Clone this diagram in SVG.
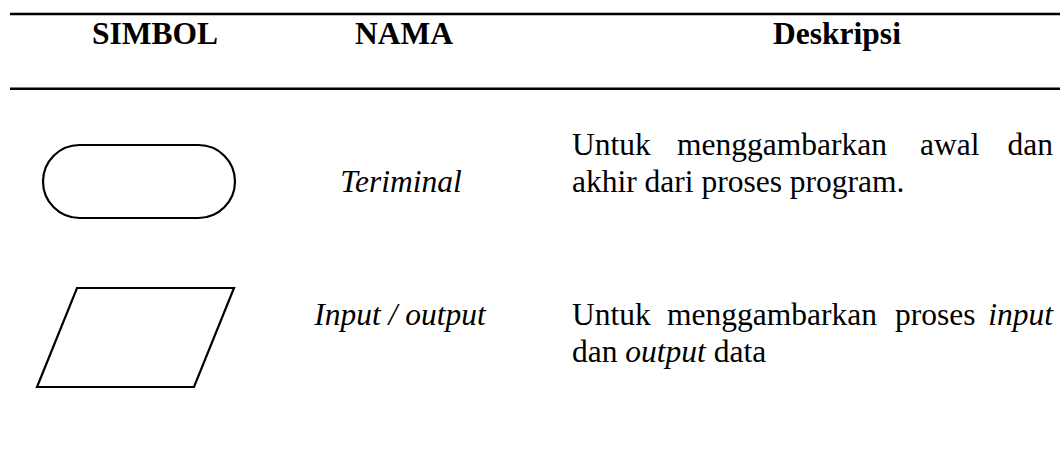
<svg xmlns="http://www.w3.org/2000/svg" width="1060" height="452" viewBox="0 0 1060 452">
<style>
text{font-family:"Liberation Serif","Times New Roman",serif;font-size:31.5px;fill:#000}
.h{font-weight:bold}
.i{font-style:italic}
.rule{stroke:#000;stroke-width:2.6;fill:none}
.shape{stroke:#000;stroke-width:2.2;fill:#fff}
</style>
<rect width="1060" height="452" fill="#fff"/>
<g id="rules">
<line class="rule" x1="10" y1="14" x2="1060" y2="14"/>
<line class="rule" x1="10" y1="88.7" x2="1060" y2="88.7"/>
</g>
<g id="header">
<text class="h" x="155" y="43.5" text-anchor="middle">SIMBOL</text>
<text class="h" x="404" y="43.5" text-anchor="middle">NAMA</text>
<text class="h" x="837" y="43.5" text-anchor="middle">Deskripsi</text>
</g>
<g id="terminal">
<rect class="shape" x="43" y="145" width="192" height="73" rx="36.5" ry="36.5"/>
<text class="i" x="401" y="192" text-anchor="middle">Teriminal</text>
<text x="572" y="155">Untuk</text>
<text x="677" y="155">menggambarkan</text>
<text x="920" y="155">awal</text>
<text x="1053" y="155" text-anchor="end">dan</text>
<text x="572" y="192">akhir dari proses program.</text>
</g>
<g id="input-output">
<polygon class="shape" points="77,288 234,288 194,387 37,387"/>
<text class="i" x="400" y="325" text-anchor="middle">Input / output</text>
<text x="572" y="325">Untuk</text>
<text x="667" y="325">menggambarkan</text>
<text x="895" y="325">proses</text>
<text class="i" x="1053" y="325" text-anchor="end">input</text>
<text x="572" y="361.7">dan <tspan class="i">output</tspan> data</text>
</g>
<g id="connectors"></g>
</svg>
